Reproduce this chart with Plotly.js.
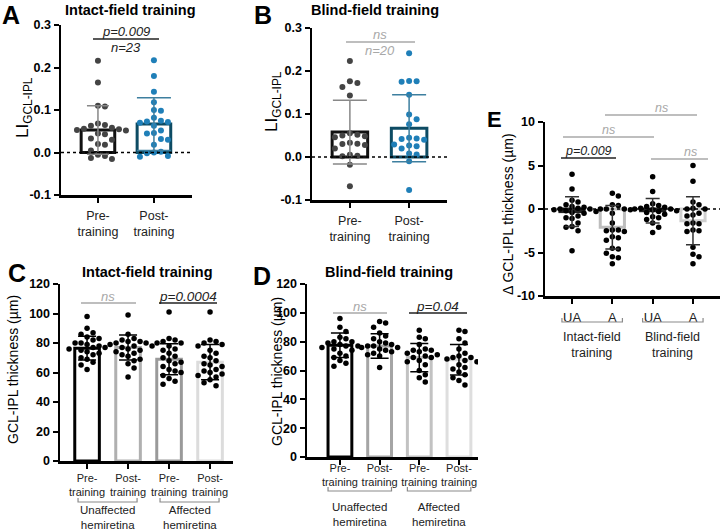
<!DOCTYPE html>
<html>
<head>
<meta charset="utf-8">
<script src="https://cdn.plot.ly/plotly-3.0.1.min.js"></script>
<style>
    html, body { margin: 0; padding: 0; background: #fff; }
    #chart { width: 720px; height: 532px; }
</style>
</head>
<body>
<div id="chart"></div>
<script>
// ---- data ----

// A/B: laterality index LI (GCL-IPL)
const liTicks = ['Pre-<br>training', 'Post-<br>training'];
const liYVals = [-0.1, 0, 0.1, 0.2, 0.3];
const liYText = ['-0.1', '0.0', '0.1', '0.2', '0.3'];

const aPre = [0.216, 0.165, 0.110, 0.108, 0.068, 0.065, 0.063, 0.058, 0.056, 0.055, 0.053, 0.052,
    0.045, 0.043, 0.033, 0.030, 0.020, 0.018, 0.005, -0.005, -0.008, -0.013, -0.015];
const aPost = [0.217, 0.180, 0.143, 0.118, 0.100, 0.098, 0.082, 0.075, 0.073, 0.072, 0.070, 0.063,
    0.052, 0.046, 0.045, 0.032, 0.030, 0.018, 0.002, 0.000, -0.002, -0.008, -0.010];
const aMean = [0.053, 0.067];
const aSd = [0.057, 0.062];

const bPre = [0.223, 0.176, 0.172, 0.163, 0.143, 0.055, 0.052, 0.050, 0.048, 0.046, 0.033, 0.031,
    0.030, 0.028, 0.020, 0.005, 0.003, 0.002, -0.018, -0.068];
const bPost = [0.241, 0.177, 0.176, 0.175, 0.145, 0.099, 0.088, 0.076, 0.045, 0.043, 0.042, 0.040,
    0.029, 0.027, 0.025, 0.020, 0.008, 0.006, -0.010, -0.077];
const bMean = [0.058, 0.067];
const bSd = [0.074, 0.078];

// C/D: GCL-IPL thickness (um)
const cdTicks = ['Pre-<br>training', 'Post-<br>training', 'Pre-<br>training', 'Post-<br>training'];
const cdGroups = ['Unaffected<br>hemiretina', 'Affected<br>hemiretina'];
const cdYVals = [0, 20, 40, 60, 80, 100, 120];

const cUnaffPre = [98, 90, 87, 86, 84, 83, 82, 80, 80, 79, 78, 77, 77, 76, 75, 74, 73, 72, 70, 69, 67, 65, 62];
const cUnaffPost = [99, 86, 83, 82, 81, 81, 80, 80, 79, 78, 78, 77, 76, 75, 74, 73, 72, 71, 69, 68, 66, 63, 57];
const cAffPre = [101, 83, 82, 81, 80, 80, 78, 76, 75, 73, 71, 70, 68, 67, 66, 64, 62, 61, 60, 58, 56, 54, 52];
const cAffPost = [101, 82, 81, 80, 79, 78, 75, 73, 71, 70, 68, 66, 65, 64, 62, 61, 60, 59, 58, 57, 55, 53, 51];
const cMean = [76.5, 77, 69, 67];
const cSd = [8, 8.5, 10.5, 12];

const dUnaffPre = [96, 90, 87, 83, 82, 80, 80, 79, 78, 77, 77, 76, 75, 74, 72, 70, 69, 67, 65, 63];
const dUnaffPost = [94, 93, 90, 86, 84, 82, 80, 79, 78, 77, 77, 76, 76, 75, 74, 73, 72, 71, 70, 62];
const dAffPre = [88, 83, 82, 78, 75, 74, 74, 73, 72, 71, 70, 69, 69, 67, 66, 64, 60, 57, 55, 52];
const dAffPost = [88, 87, 82, 79, 75, 72, 70, 69, 69, 68, 67, 66, 64, 62, 61, 59, 57, 55, 53, 50];
const dMean = [77.5, 77, 69, 67.5];
const dSd = [8.5, 8.5, 9.8, 10.6];

// E: change in GCL-IPL thickness (um)
const eTicks = ['UA', 'A', 'UA', 'A'];
const eGroups = ['Intact-field<br>training', 'Blind-field<br>training'];
const eYVals = [-10, -5, 0, 5, 10];
const eYText = ['-10', '-5', '0', '5', '10'];

const eIntactUA = [4.0, 2.3, 1.0, 0.8, 0.5, 0.3, 0.2, 0.1, 0.0, 0.0, -0.1, -0.2, -0.3, -0.4, -0.5, -0.8,
    -1.0, -1.1, -1.6, -2.0, -2.1, -2.5, -4.8];
const eIntactA = [1.8, 1.5, 0.5, 0.4, 0.0, 0.0, 0.0, -0.1, -0.5, -1.6, -2.4, -2.4, -2.5, -2.6, -3.2, -3.3,
    -3.6, -4.5, -4.6, -5.1, -5.5, -5.6, -6.3];
const eBlindUA = [3.7, 2.0, 0.6, 0.4, 0.3, 0.2, 0.1, 0.0, 0.0, -0.1, -0.2, -0.3, -0.4, -0.6, -0.9, -1.0,
    -1.2, -1.6, -2.1, -2.7];
const eBlindA = [5.0, 3.2, 0.8, 0.5, 0.1, 0.0, 0.0, -0.5, -0.7, -0.8, -1.6, -1.7, -1.7, -2.4, -2.5, -2.6,
    -4.4, -5.2, -5.5, -6.3];
const eMean = [-0.3, -2.1, -0.2, -1.35];
const eSd = [1.7, 2.5, 1.4, 2.75];

// ---- layout helpers (pixel -> paper) ----
const W = 720, H = 532;
const px = x => x / W;
const py = y => 1 - y / H;

// plot boxes in pixels: [left, right, top, bottom]
const panels = {
    A: { id: '', box: [61, 192, 25, 195], xr: [-0.66, 1.68], yr: [-0.1, 0.3] },
    B: { id: '2', box: [312, 447, 28, 200], xr: [-0.64, 1.64], yr: [-0.1, 0.3] },
    C: { id: '3', box: [60, 233, 284, 461], xr: [-0.66, 3.56], yr: [0, 120] },
    D: { id: '4', box: [307, 478, 284, 457], xr: [-0.83, 3.48], yr: [0, 120] },
    E: { id: '5', box: [545, 720, 122, 296], xr: [-0.67, 3.67], yr: [-10, 10] }
};

const FONT = 'Liberation Sans, Arial, sans-serif';

// Spread the dots sideways so they don't overlap (simple beeswarm)
function swarm(values, center, p, step) {
    const pxX = (p.box[1] - p.box[0]) / (p.xr[1] - p.xr[0]);
    const pxY = (p.box[3] - p.box[2]) / (p.yr[1] - p.yr[0]);
    const placed = [];
    const xs = new Array(values.length);
    const order = values.map((v, i) => i).sort((a, b) => values[b] - values[a]);
    order.forEach(i => {
        const yPx = values[i] * pxY;
        for (let k = 0; k < 60; k++) {
            const off = (k % 2 ? 1 : -1) * Math.ceil(k / 2) * step;
            const free = placed.every(q => Math.hypot(q.x - off, q.y - yPx) >= step);
            if (free) {
                placed.push({ x: off, y: yPx });
                xs[i] = center + off / pxX;
                break;
            }
        }
    });
    return xs;
}

function axisPair(p, ticks, yVals, yText, tickSize, standoff) {
    const x = {
        domain: [px(p.box[0]), px(p.box[1])],
        range: p.xr,
        anchor: 'y' + p.id,
        showline: true, linewidth: 2.5, linecolor: '#000',
        ticks: 'outside', ticklen: 5, tickwidth: 2, tickcolor: '#000',
        tickvals: ticks.map((t, i) => i), ticktext: ticks,
        tickfont: { family: FONT, size: tickSize, color: '#222' },
        ticklabelstandoff: standoff,
        showgrid: false, zeroline: false, fixedrange: true
    };
    const y = {
        domain: [py(p.box[3]), py(p.box[2])],
        range: p.yr,
        anchor: 'x' + p.id,
        showline: true, linewidth: 2.5, linecolor: '#000',
        ticks: 'outside', ticklen: 5, tickwidth: 2, tickcolor: '#000',
        tickvals: yVals, ticktext: yText,
        tickfont: { family: FONT, size: 12.5, color: '#000', weight: 'bold' },
        showgrid: false, zeroline: false, fixedrange: true
    };
    return { x, y };
}

const traces = [];

function barTrace(p, means, lineColors) {
    return {
        type: 'bar', xaxis: 'x' + p.id, yaxis: 'y' + p.id,
        x: means.map((m, i) => i), y: means, width: 0.6,
        marker: { color: 'rgba(255,255,255,1)', line: { color: lineColors, width: 3 } },
        hoverinfo: 'skip'
    };
}

function dotTrace(p, values, center, color, size, step) {
    return {
        type: 'scatter', mode: 'markers', xaxis: 'x' + p.id, yaxis: 'y' + p.id,
        x: swarm(values, center, p, step), y: values,
        marker: { color: color, size: size, line: { width: 0 } },
        hoverinfo: 'y'
    };
}

function errTrace(p, xs, means, sds, color, capWidth) {
    return {
        type: 'scatter', mode: 'markers', xaxis: 'x' + p.id, yaxis: 'y' + p.id,
        x: xs, y: means,
        marker: { color: 'rgba(0,0,0,0)', size: 1 },
        error_y: { type: 'data', array: sds, visible: true, color: color, thickness: 1.5, width: capWidth },
        hoverinfo: 'skip'
    };
}

// A
const pA = panels.A;
traces.push(barTrace(pA, aMean, ['#111', '#0d4b63']));
traces.push(dotTrace(pA, aPre, 0, '#444', 6, 7));
traces.push(dotTrace(pA, aPost, 1, '#1f7fb8', 6, 7));
traces.push(errTrace(pA, [0], [aMean[0]], [aSd[0]], '#888', 11));
traces.push(errTrace(pA, [1], [aMean[1]], [aSd[1]], '#3d7f9f', 17));

// B
const pB = panels.B;
traces.push(barTrace(pB, bMean, ['#111', '#0d4b63']));
traces.push(dotTrace(pB, bPre, 0, '#444', 6, 7.5));
traces.push(dotTrace(pB, bPost, 1, '#1f7fb8', 6, 7.5));
traces.push(errTrace(pB, [0], [bMean[0]], [bSd[0]], '#888', 17));
traces.push(errTrace(pB, [1], [bMean[1]], [bSd[1]], '#3d7f9f', 17));

// C
const pC = panels.C;
traces.push(barTrace(pC, cMean, ['#000', '#b0b0b0', '#9a9a9a', '#dcdcdc']));
[cUnaffPre, cUnaffPost, cAffPre, cAffPost].forEach((vals, i) => {
    traces.push(dotTrace(pC, vals, i, '#000', 5.5, 6));
});
traces.push(errTrace(pC, [0, 1, 2, 3], cMean, cSd, '#000', 9));

// D
const pD = panels.D;
traces.push(barTrace(pD, dMean, ['#000', '#a5a5a5', '#c2c2c2', '#dedede']));
[dUnaffPre, dUnaffPost, dAffPre, dAffPost].forEach((vals, i) => {
    traces.push(dotTrace(pD, vals, i, '#000', 5.5, 6));
});
traces.push(errTrace(pD, [0, 1, 2, 3], dMean, dSd, '#000', 9));

// E
const pE = panels.E;
traces.push(barTrace(pE, eMean, ['#222', '#bdbdbd', '#222', '#cfcfcf']));
[eIntactUA, eIntactA, eBlindUA, eBlindA].forEach((vals, i) => {
    traces.push(dotTrace(pE, vals, i, '#000', 5.5, 6));
});
traces.push(errTrace(pE, [0, 1, 2, 3], eMean, eSd, '#333', 7));

// ---- axes ----
const layout = {
    width: W, height: H,
    margin: { l: 0, r: 0, t: 0, b: 0 },
    paper_bgcolor: '#fff', plot_bgcolor: 'rgba(0,0,0,0)',
    showlegend: false,
    barmode: 'overlay',
    font: { family: FONT, color: '#000' },
    annotations: [],
    shapes: []
};

const axA = axisPair(pA, liTicks, liYVals, liYText, 12.5, 2);
const axB = axisPair(pB, liTicks, liYVals, liYText, 12.5, 2);
const axC = axisPair(pC, cdTicks, cdYVals, cdYVals.map(String), 11, 0);
const axD = axisPair(pD, cdTicks, cdYVals, cdYVals.map(String), 11, -6);
const axE = axisPair(pE, eTicks, eYVals, eYText, 13, 3);
layout.xaxis = axA.x; layout.yaxis = axA.y;
layout.xaxis2 = axB.x; layout.yaxis2 = axB.y;
layout.xaxis3 = axC.x; layout.yaxis3 = axC.y;
layout.xaxis4 = axD.x; layout.yaxis4 = axD.y;
layout.xaxis5 = axE.x; layout.yaxis5 = axE.y;

// dotted zero lines
[pA, pB, pE].forEach(p => {
    layout.shapes.push({
        type: 'line', xref: 'x' + p.id + ' domain', yref: 'y' + p.id,
        x0: 0, x1: 1, y0: 0, y1: 0,
        line: { color: '#000', width: 1.5, dash: 'dot' }, layer: 'above'
    });
});

// ---- text helpers ----
function note(text, x, y, opts) {
    layout.annotations.push(Object.assign({
        text: text, xref: 'paper', yref: 'paper', x: px(x), y: py(y),
        xanchor: 'center', yanchor: 'middle', showarrow: false,
        font: { family: FONT, size: 13, color: '#000' }
    }, opts || {}));
}

function sigLine(x0, x1, y, color) {
    layout.shapes.push({
        type: 'line', xref: 'paper', yref: 'paper',
        x0: px(x0), x1: px(x1), y0: py(y), y1: py(y),
        line: { color: color, width: 1.5 }
    });
}

const italic = (size, color) => ({ family: FONT, size: size, color: color, style: 'italic' });
const GRAY = '#a8a8a8';

// panel letters (top-anchored so they stay inside the page)
const letterFont = size => ({ family: FONT, size: size, weight: 'bold' });
note('A', 11, 0, { yanchor: 'top', borderpad: 0, font: letterFont(25) });
note('B', 263, 0, { yanchor: 'top', borderpad: 0, font: letterFont(25) });
note('C', 17, 258, { yanchor: 'top', borderpad: 0, font: letterFont(25) });
note('D', 262, 261, { yanchor: 'top', borderpad: 0, font: letterFont(25) });
note('E', 494, 119, { font: letterFont(22) });

// panel titles
const titleFont = { family: FONT, size: 14.5, weight: 'bold' };
note('Intact-field training', 130, 10, { font: titleFont });
note('Blind-field training', 375, 10, { font: titleFont });
note('Intact-field training', 147, 272, { font: titleFont });
note('Blind-field training', 389, 272, { font: titleFont });

// y axis titles
note('LI<sub>GCL-IPL</sub>', 24, 108, { textangle: -90, font: { family: FONT, size: 17 } });
note('LI<sub>GCL-IPL</sub>', 273, 102, { textangle: -90, font: { family: FONT, size: 17 } });
note('GCL-IPL thickness (µm)', 13, 370, { textangle: -90, font: { family: FONT, size: 14 } });
note('GCL-IPL thickness (µm)', 277, 372, { textangle: -90, font: { family: FONT, size: 14 } });
note('Δ GCL-IPL thickness (µm)', 508, 214, { textangle: -90, font: { family: FONT, size: 14 } });

// significance marks
sigLine(93, 159, 39, '#222');
note('p=0.009', 126, 31, { font: italic(13, '#222') });
note('n=23', 126, 47, { font: italic(13, '#222') });

sigLine(346, 415, 42, GRAY);
note('ns', 380, 34, { font: italic(13, GRAY) });
note('n=20', 380, 51, { font: italic(13, GRAY) });

sigLine(81, 136, 303, GRAY);
note('ns', 108, 296, { font: italic(13, GRAY) });
sigLine(159, 217, 303, '#222');
note('p=0.0004', 188, 296, { font: italic(13.5, '#222') });

sigLine(333, 387, 313, GRAY);
note('ns', 360, 306, { font: italic(13, GRAY) });
sigLine(409, 467, 313, '#222');
note('p=0.04', 438, 306, { font: italic(13.5, '#222') });

sigLine(605, 697, 115, GRAY);
note('ns', 661, 108, { font: italic(12.5, GRAY) });
sigLine(563, 654, 137, GRAY);
note('ns', 608, 130, { font: italic(12.5, GRAY) });
sigLine(561, 616, 158, '#222');
note('p=0.009', 588, 151, { font: italic(12.5, '#222') });
sigLine(651, 708, 159, GRAY);
note('ns', 690, 152, { font: italic(12.5, GRAY) });

// group brackets under the category labels; yText null = sit on the bottom edge
function bracket(p, i0, i1, yLine, yText, label, pad, size) {
    const xa = 'x' + p.id;
    const a = i0 - pad, b = i1 + pad;
    layout.shapes.push({
        type: 'path', xref: xa, yref: 'paper',
        path: `M ${a},${py(yLine - 4)} L ${a},${py(yLine)} L ${b},${py(yLine)} L ${b},${py(yLine - 4)}`,
        line: { color: '#8a8a8a', width: 1.2 }
    });
    const atBottom = yText === null;
    layout.annotations.push({
        text: label, xref: xa, yref: 'paper', x: (i0 + i1) / 2, y: atBottom ? 0 : py(yText),
        xanchor: 'center', yanchor: atBottom ? 'bottom' : 'middle', borderpad: atBottom ? 0 : 1,
        showarrow: false,
        font: { family: FONT, size: size, color: '#222' }
    });
}

bracket(pC, 0, 1, 502, null, cdGroups[0], 0.22, 11.5);
bracket(pC, 2, 3, 502, null, cdGroups[1], 0.22, 11.5);
bracket(pD, 0, 1, 491, 514, cdGroups[0], 0.3, 11.5);
bracket(pD, 2, 3, 491, 514, cdGroups[1], 0.3, 11.5);
bracket(pE, 0, 1, 322, 345, eGroups[0], 0.25, 12.5);
bracket(pE, 2, 3, 322, 345, eGroups[1], 0.25, 12.5);

Plotly.newPlot('chart', traces, layout, { displayModeBar: false, staticPlot: true });
</script>
</body>
</html>
